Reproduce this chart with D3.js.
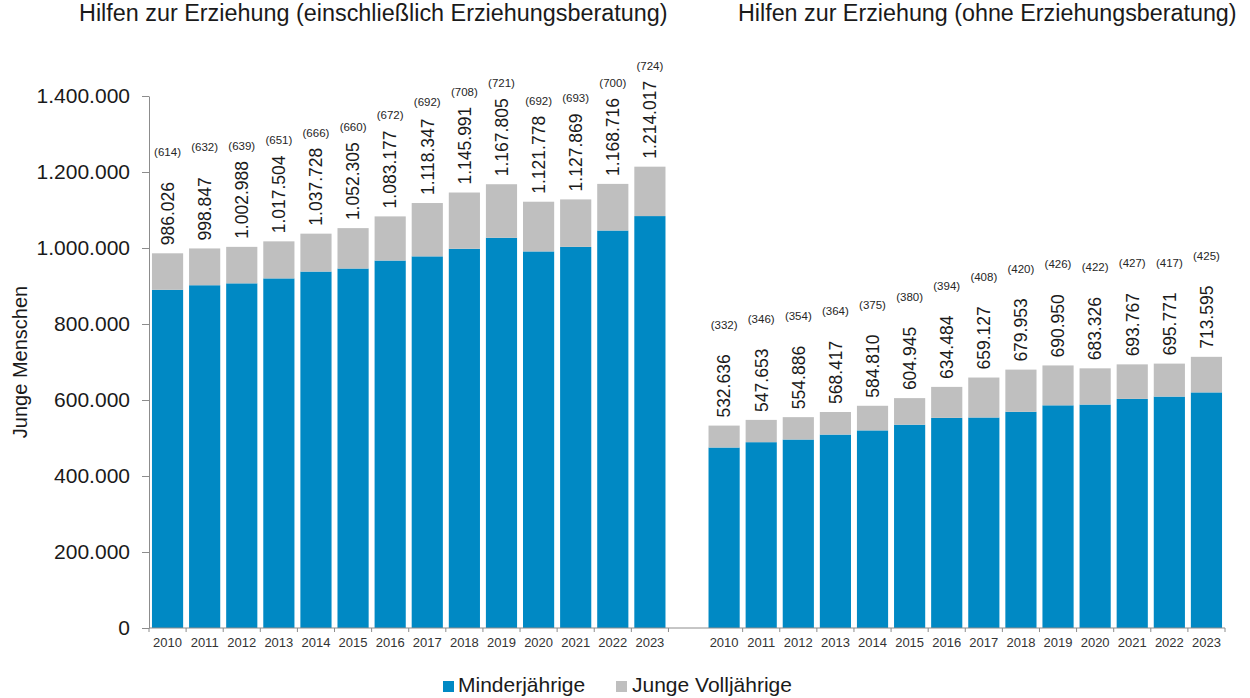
<!DOCTYPE html>
<html>
<head>
<meta charset="utf-8">
<script src="https://cdn.jsdelivr.net/npm/d3@7"></script>
<style>
  body { margin: 0; background: #fff; }
  svg { display: block; }
  text { font-family: "Liberation Sans", Arial, sans-serif; }
</style>
</head>
<body>
<svg id="chart" width="1250" height="698"></svg>
<script>
// years on the x axis (same for both panels)
let years = ["2010", "2011", "2012", "2013", "2014", "2015", "2016", "2017", "2018", "2019", "2020", "2021", "2022", "2023"];

// panel 1: einschliesslich Erziehungsberatung
let totalMit = [986026, 998847, 1002988, 1017504, 1037728, 1052305, 1083177, 1118347, 1145991, 1167805, 1121778, 1127869, 1168716, 1214017];
let minderMit = [890000, 902000, 907000, 920000, 938000, 946000, 967000, 978000, 998000, 1027000, 991000, 1003000, 1046000, 1084000];
let rateMit = [614, 632, 639, 651, 666, 660, 672, 692, 708, 721, 692, 693, 700, 724];

// panel 2: ohne Erziehungsberatung
let totalOhne = [532636, 547653, 554886, 568417, 584810, 604945, 634484, 659127, 679953, 690950, 683326, 693767, 695771, 713595];
let minderOhne = [475000, 489000, 496000, 509000, 520000, 535000, 553000, 554000, 569000, 586000, 588000, 603000, 609000, 620000];
let rateOhne = [332, 346, 354, 364, 375, 380, 394, 408, 420, 426, 422, 427, 417, 425];

let titles = ["Hilfen zur Erziehung (einschließlich Erziehungsberatung)", "Hilfen zur Erziehung (ohne Erziehungsberatung)"];
let seriesNames = ["Minderjährige", "Junge Volljährige"];
let yTicks = [0, 200000, 400000, 600000, 800000, 1000000, 1200000, 1400000];

let colors = {"Minderjährige": "#0089c4", "Junge Volljährige": "#bfbfbf"};

let de = d3.formatLocale({decimal: ",", thousands: ".", grouping: [3], currency: ["", " €"]});
let fmt = de.format(",");

// build rows: one per bar, plus an empty slot between the panels
let rows = [];
years.forEach(function (y, i) {
    rows.push({key: "a" + y, year: y, total: totalMit[i], "Minderjährige": minderMit[i], "Junge Volljährige": totalMit[i] - minderMit[i], rate: rateMit[i]});
});
let gapKey = "gap";
years.forEach(function (y, i) {
    rows.push({key: "b" + y, year: y, total: totalOhne[i], "Minderjährige": minderOhne[i], "Junge Volljährige": totalOhne[i] - minderOhne[i], rate: rateOhne[i]});
});
let domainKeys = rows.slice(0, 14).map(d => d.key).concat([gapKey]).concat(rows.slice(14).map(d => d.key));

let svg = d3.select("#chart");

let x = d3.scaleBand()
    .domain(domainKeys)
    .range([149, 1225])
    .paddingInner(0.16)
    .paddingOuter(0.08);

let y = d3.scaleLinear()
    .domain([0, 1400000])
    .range([628, 96]);

// y axis
let yAxis = svg.append("g")
    .attr("transform", "translate(149,0)")
    .call(d3.axisLeft(y).tickValues(yTicks).tickSize(7).tickSizeOuter(0).tickPadding(12)
        .tickFormat(d => fmt(d)));
yAxis.select(".domain").attr("stroke", "#8c8c8c");
yAxis.selectAll(".tick line").attr("stroke", "#8c8c8c");
yAxis.selectAll("text").attr("font-size", 21).attr("fill", "#1a1a1a")
    .attr("font-family", "'Liberation Sans', Arial, sans-serif");

svg.append("text")
    .attr("transform", "translate(27,362) rotate(-90)")
    .attr("text-anchor", "middle")
    .attr("font-size", 20)
    .attr("fill", "#1a1a1a")
    .text("Junge Menschen");

// stacked bars
let stack = d3.stack().keys(seriesNames);
let stacked = stack(rows);

svg.append("g")
    .selectAll("g")
    .data(stacked)
    .enter()
    .append("g")
    .attr("fill", d => colors[d.key])
    .selectAll("rect")
    .data(d => d)
    .enter()
    .append("rect")
    .attr("x", d => x(d.data.key))
    .attr("width", x.bandwidth())
    .attr("y", d => y(d[1]))
    .attr("height", d => y(d[0]) - y(d[1]));

// x axis line and tick marks at slot boundaries
let step = x.step();
let x0 = x.range()[0];
let x1 = x.range()[1];
svg.append("line")
    .attr("x1", x0).attr("x2", x1)
    .attr("y1", y(0)).attr("y2", y(0))
    .attr("stroke", "#8c8c8c");
let bounds = d3.range(domainKeys.length + 1).filter(i => i !== 15);
svg.append("g")
    .selectAll("line")
    .data(bounds)
    .enter()
    .append("line")
    .attr("x1", i => x0 + i * step)
    .attr("x2", i => x0 + i * step)
    .attr("y1", y(0))
    .attr("y2", y(0) + 4)
    .attr("stroke", "#8c8c8c");

// year labels
svg.append("g")
    .selectAll("text")
    .data(rows)
    .enter()
    .append("text")
    .attr("x", d => x(d.key) + x.bandwidth() / 2)
    .attr("y", 647)
    .attr("text-anchor", "middle")
    .attr("font-size", 13)
    .attr("fill", "#333")
    .text(d => d.year);

// vertical total labels
svg.append("g")
    .selectAll("text")
    .data(rows)
    .enter()
    .append("text")
    .attr("transform", d => "translate(" + (x(d.key) + x.bandwidth() / 2) + "," + (y(d.total) - 8) + ") rotate(-90)")
    .attr("dy", "0.36em")
    .attr("font-size", 17.5)
    .attr("fill", "#1a1a1a")
    .text(d => fmt(d.total));

// small rate labels
svg.append("g")
    .selectAll("text")
    .data(rows)
    .enter()
    .append("text")
    .attr("x", d => x(d.key) + x.bandwidth() / 2)
    .attr("y", d => y(d.total) - 101)
    .attr("dy", "0.35em")
    .attr("text-anchor", "middle")
    .attr("font-size", 11.5)
    .attr("fill", "#262626")
    .text(d => "(" + d.rate + ")");

// titles, sized to the width they take in the original
let titleBoxes = [[79, 668], [738, 1237]];
titles.forEach(function (t, i) {
    let el = svg.append("text")
        .attr("x", titleBoxes[i][0])
        .attr("y", 21)
        .attr("font-family", "Lato, 'Open Sans', sans-serif")
        .attr("font-size", 20)
        .attr("fill", "#1a1a1a")
        .text(t);
    let w = el.node().getComputedTextLength();
    let target = titleBoxes[i][1] - titleBoxes[i][0];
    el.attr("font-size", 20 * target / w);
});

// legend
let legend = svg.append("g");
let legendPos = [[443, 458], [616, 632]];
seriesNames.forEach(function (s, i) {
    legend.append("rect")
        .attr("x", legendPos[i][0])
        .attr("y", 681)
        .attr("width", 11)
        .attr("height", 11)
        .attr("fill", colors[s]);
    legend.append("text")
        .attr("x", legendPos[i][1])
        .attr("y", 692)
        .attr("font-size", 21)
        .attr("fill", "#1a1a1a")
        .text(s);
});
</script>
</body>
</html>
